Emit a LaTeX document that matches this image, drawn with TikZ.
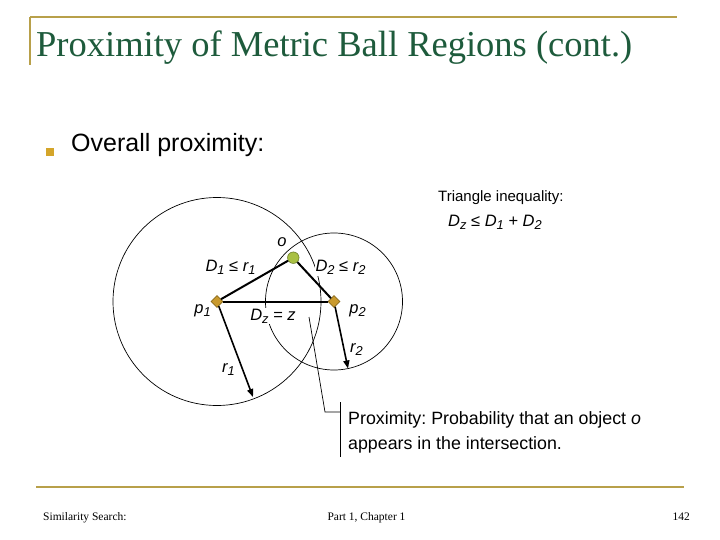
\documentclass[tikz,border=0pt]{standalone}
\usepackage{fontspec}
\setmainfont{Liberation Serif}
\newfontfamily\arialf{Liberation Sans}
\usetikzlibrary{shapes.geometric,arrows.meta}
\frenchspacing
\definecolor{titlegreen}{HTML}{1E5B3C}
\definecolor{goldline}{HTML}{B8A04A}
\definecolor{bulletgold}{HTML}{D4A52A}
\definecolor{diamondfill}{HTML}{C99A2E}
\definecolor{diamondedge}{HTML}{8A6A1A}
\definecolor{ofill}{HTML}{A9C043}
\definecolor{oedge}{HTML}{6B7D2A}
\newcommand\sbs[1]{\raisebox{-0.35ex}{\scalebox{0.78}{#1}}}
\begin{document}
\begin{tikzpicture}[x=1pt,y=-1pt,
  lbl/.style={font=\arialf\fontsize{16.5}{19}\selectfont\itshape, inner sep=1pt},
  lblw/.style={lbl, fill=white},
  sanstext/.style={font=\arialf\fontsize{15}{18}\selectfont, inner sep=0pt},
  foot/.style={font=\fontsize{11.5}{13}\selectfont, inner sep=0pt},
  goldrule/.style={draw=goldline, line width=2pt},
  ball/.style={draw=black, line width=0.7pt},
  pivot/.style={diamond, fill=diamondfill, draw=diamondedge, line width=0.6pt, minimum size=12pt, inner sep=0pt},
  objpt/.style={circle, fill=ofill, draw=oedge, line width=0.6pt, minimum size=11.5pt, inner sep=0pt},
  thickline/.style={line width=2pt},
  radius arrow/.style={line width=1.6pt, -{Triangle[length=8pt,width=6pt]}},
  callout/.style={line width=0.7pt}]
\useasboundingbox (0,0) rectangle (720,540);
\fill[white] (0,0) rectangle (720,540);

% title area
\draw[goldrule] (30,17) -- (677,17);
\draw[goldrule] (30,17) -- (30,65);
\node[anchor=base west, text=titlegreen, font=\fontsize{36.5}{42}\selectfont, inner sep=0pt] (title) at (36,57) {Proximity of Metric Ball Regions (cont.)};

% bullet
\node[fill=bulletgold, minimum size=8pt, inner sep=0pt] (bullet) at (50,152.5) {};
\node[anchor=base west, font=\arialf\fontsize{25}{30}\selectfont, inner sep=0pt] (overall) at (71,152) {Overall proximity:};

% metric balls
\coordinate (C1) at (217,301.5);
\coordinate (C2) at (334,301.5);
\draw[ball] (C1) circle (104);
\draw[ball] (C2) circle (68.5);

% labels with white background
\node[lblw, anchor=base] (d1) at (230.5,271.5) {D\sbs{1} ≤ r\sbs{1}};
\node[lblw, anchor=base] (d2) at (340.5,271.5) {D\sbs{2} ≤ r\sbs{2}};
\node[lblw, anchor=base] (dz) at (273,320) {D\sbs{z} = z};
\node[lbl, anchor=base] (olbl) at (282,246) {o};
\node[lbl, anchor=base] (p1lbl) at (202.5,313.5) {p\sbs{1}};
\node[lbl, anchor=base] (p2lbl) at (357.5,313.5) {p\sbs{2}};
\node[lbl, anchor=base] (r1lbl) at (228.5,372) {r\sbs{1}};
\node[lbl, anchor=base] (r2lbl) at (356.5,352) {r\sbs{2}};

% points
\node[pivot] (p1) at (C1) {};
\node[pivot] (p2) at (C2) {};
\node[objpt] (o) at (293.3,257.7) {};

% triangle
\draw[thickline] (p1) -- (o);
\draw[thickline] (o) -- (p2);
\draw[thickline] (p1) -- (p2);

% radius arrows
\coordinate (r1end) at (253,397);
\coordinate (r2end) at (348,368.5);
\draw[radius arrow] (p1) -- (r1end);
\draw[radius arrow] (p2) -- (r2end);

% triangle inequality
\node[sanstext, anchor=base west] (tri) at (438,202) {Triangle inequality:};
\node[lbl, anchor=base west, inner sep=0pt] (triform) at (448,226.5) {D\sbs{z} ≤ D\sbs{1} + D\sbs{2}};

% callout
\coordinate (cstart) at (309,317);
\coordinate (cbend) at (325,412);
\coordinate (cbar) at (340.5,412);
\coordinate (cbartop) at (340.5,402);
\coordinate (cbarbot) at (340.5,457);
\draw[callout] (cstart) -- (cbend) -- (cbar);
\draw[callout] (cbartop) -- (cbarbot);
\node[anchor=base west, font=\arialf\fontsize{17.8}{20}\selectfont, inner sep=0pt] (prox1) at (348,424.5) {Proximity: Probability that an object \textit{o}};
\node[anchor=base west, font=\arialf\fontsize{17.8}{20}\selectfont, inner sep=0pt] (prox2) at (348,449) {appears in the intersection.};

% footer
\draw[goldrule] (36,487) -- (684,487);
\node[foot, anchor=base west] (f1) at (43,520) {Similarity Search:};
\node[foot, anchor=base] (f2) at (366.5,520) {Part 1, Chapter 1};
\node[foot, anchor=base east] (f3) at (690,520) {142};
\end{tikzpicture}
\end{document}
